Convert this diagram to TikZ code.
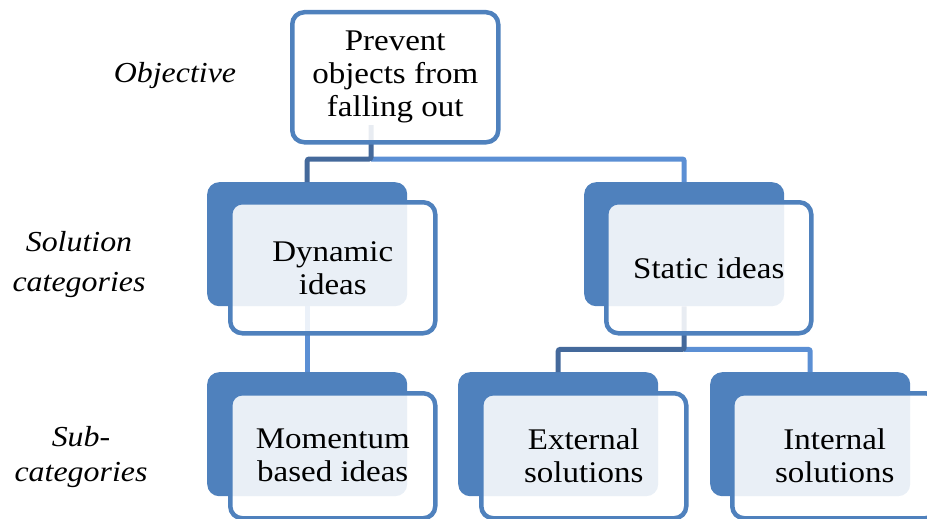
\documentclass[tikz,border=0pt]{standalone}
\usepackage{fontspec}
\setmainfont{Liberation Serif}[FakeStretch=1.1]
\usetikzlibrary{calc}
\definecolor{acc}{HTML}{4F81BD}
\definecolor{lnd}{HTML}{44699B}
\definecolor{lnl}{HTML}{5B8FD4}
\begin{document}
\begin{tikzpicture}[x=1pt,y=-1pt,
  backbox/.style={fill=acc, rounded corners=12pt, minimum width=200pt, minimum height=124pt, inner sep=0pt, anchor=north west},
  frontbox/.style={draw=acc, line width=4.5pt, fill=white, fill opacity=0.88, text opacity=1,
    rounded corners=12pt, minimum width=205pt, minimum height=131pt, inner sep=0pt,
    anchor=north west, align=center, font=\fontsize{30}{33}\selectfont},
  lowfront/.style={frontbox, minimum height=125pt},
  conn/.style={line width=5pt, rounded corners=2pt},
  lvl/.style={align=center, font=\itshape}
]
\useasboundingbox (0,0) rectangle (927,519);
\clip (0,0) rectangle (927,519);

% back boxes
\node[backbox] (dyn-back) at (207,182) {};
\node[backbox] (sta-back) at (584,182) {};
\node[backbox] (mom-back) at (207,372) {};
\node[backbox] (ext-back) at (458,372) {};
\node[backbox] (int-back) at (710,372) {};

% connector points
\coordinate (tsrc) at (371,125);
\coordinate (split1) at (371,159);
\coordinate (split2) at ($(sta-back.south)+(0,43)$);

% connectors
\draw[conn, lnl] (split1) -| (sta-back.north);
\draw[conn, lnd] (tsrc) -- (split1) -| (dyn-back.north);
\draw[conn, lnl] (split2) -| (int-back.north);
\draw[conn, lnd] (sta-back.south) -- (split2) -| (ext-back.north);
\draw[conn, lnl] (dyn-back.south) -- (mom-back.north);

% front boxes
\node[frontbox, minimum width=206pt, minimum height=130pt] (top) at (290,10) {Prevent\\objects from\\falling out};
\node[frontbox] (dyn) at (228,200) {Dynamic\\ideas};
\node[frontbox] (sta) at (604,200) {Static ideas};
\node[lowfront] (mom) at (228,391) {Momentum\\based ideas};
\node[lowfront] (ext) at (479,391) {External\\solutions};
\node[lowfront] (int) at (730,391) {Internal\\solutions};

% level labels
\node[lvl, font=\itshape\fontsize{29}{33}\selectfont, anchor=base] (lobj) at (175,83) {Objective};
\node[lvl, font=\itshape\fontsize{29}{40}\selectfont] (lsol) at (79,265) {Solution\\categories};
\node[lvl, font=\itshape\fontsize{29}{35}\selectfont] (lsub) at (81,457) {Sub-\\categories};
\end{tikzpicture}
\end{document}
